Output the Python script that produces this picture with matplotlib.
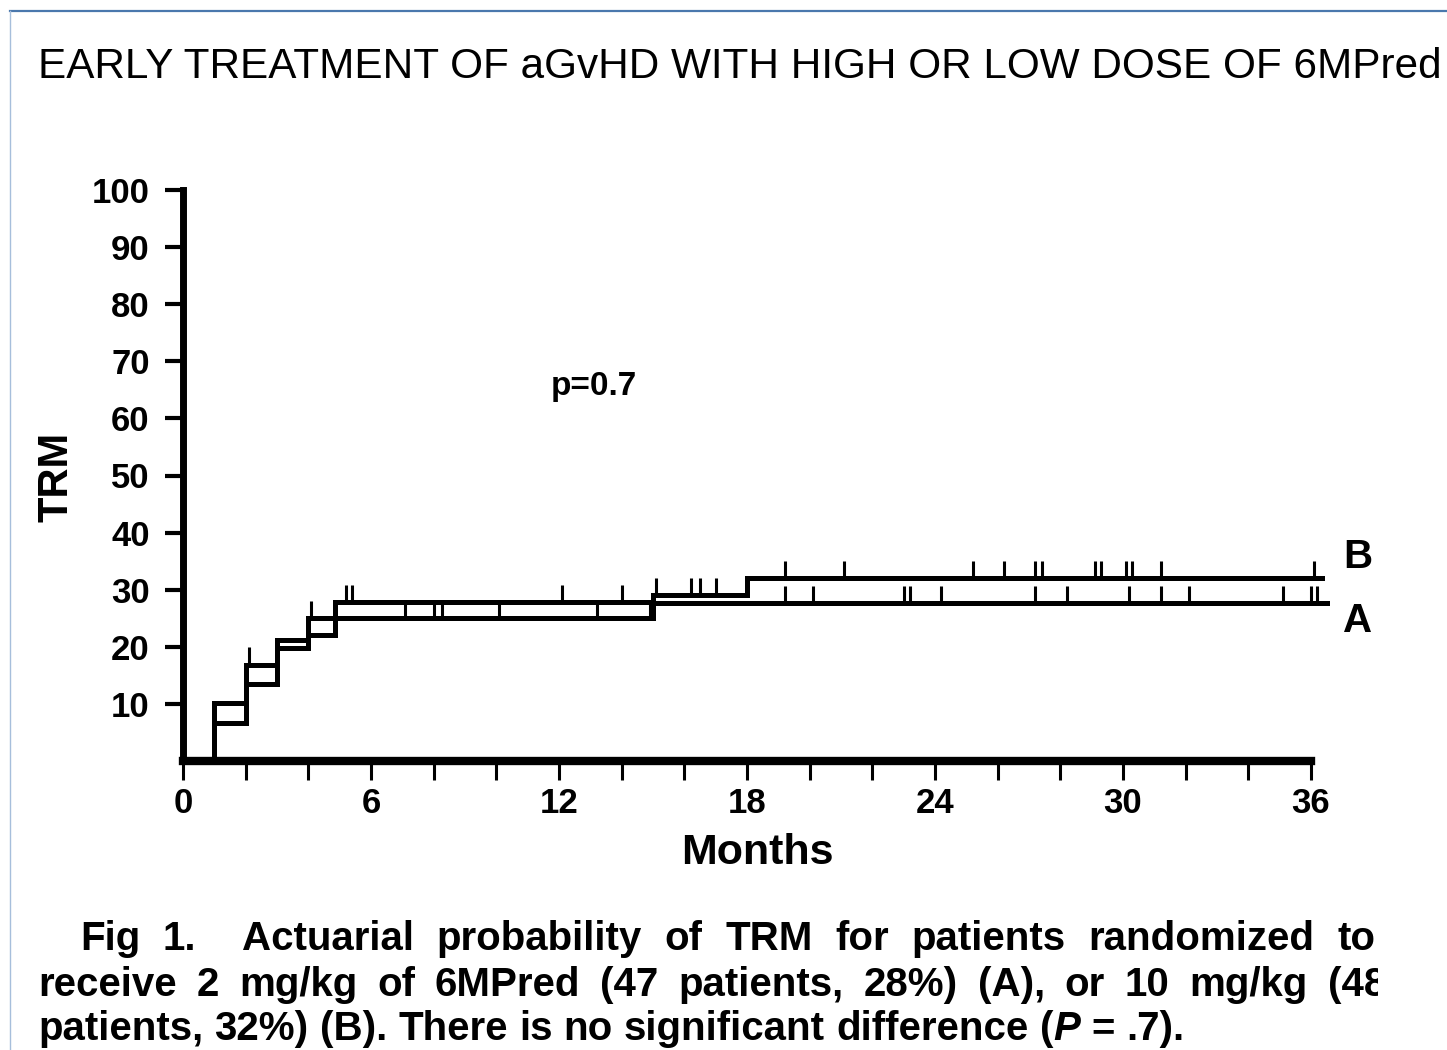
import matplotlib
matplotlib.use('Agg')
import matplotlib.pyplot as plt
import numpy as np
from matplotlib.lines import Line2D
from matplotlib.transforms import Bbox

plt.rcParams['font.family'] = ['Liberation Sans', 'DejaVu Sans']
plt.rcParams['font.weight'] = 'bold'

# actuarial TRM curves (month, % TRM), step functions
a_months = [0, 1, 2, 3, 4, 15, 36.5]
a_trm = [0, 10.2, 16.9, 19.8, 25.1, 27.7, 27.7]
b_months = [0, 1, 2, 3, 4, 4.85, 15, 18, 36.35]
b_trm = [0, 6.7, 13.4, 21.2, 22.1, 27.8, 29.0, 32.0, 32.0]

# censored patients (months)
a_censored = [2.1, 4.1, 7.1, 8.0, 8.25, 10.1, 13.2, 14.9, 19.2, 20.1, 23.0, 23.2,
              24.2, 27.2, 28.2, 30.2, 31.2, 32.1, 35.1, 36.0, 36.2]
b_censored = [5.2, 5.4, 12.1, 14.0, 15.1, 16.2, 16.5, 17.0, 19.2, 21.1, 25.2, 26.2,
              27.2, 27.4, 29.1, 29.3, 30.1, 30.3, 31.2, 36.1]

y_ticks = [10, 20, 30, 40, 50, 60, 70, 80, 90, 100]
x_major = [0, 6, 12, 18, 24, 30, 36]
x_minor = list(range(0, 37, 2))

title = 'EARLY TREATMENT OF aGvHD WITH HIGH OR LOW DOSE OF 6MPred'
caption1 = [('Fig', '', 1), ('1.', '', 2), ('Actuarial', '', 1), ('probability', '', 1),
            ('of', '', 1), ('TRM', '', 1), ('for', '', 1), ('patients', '', 1),
            ('randomized', '', 1), ('to', '', 0)]
caption2 = [('receive', '', 1), ('2', '', 1), ('mg/kg', '', 1), ('of', '', 1),
            ('6MPred', '', 1), ('(47', '', 1), ('patients,', '', 1), ('28%)', '', 1),
            ('(A),', '', 1), ('or', '', 1), ('10', '', 1), ('mg/kg', '', 1), ('(48', '', 0)]
caption3 = [('patients,', '', 1), ('32%)', '', 1), ('(B).', '', 1), ('There', '', 1),
            ('is', '', 1), ('no', '', 1), ('significant', '', 1), ('difference', '', 1),
            ('(', '', 0), ('P', 'italic', 1), ('=', '', 1), ('.7).', '', 0)]

W, H = 1447, 1050
fig = plt.figure(figsize=(W / 100, H / 100), dpi=100)
ax = fig.add_axes([183 / W, 1 - 761 / H, 1128 / W, 571 / H])


def value_at(months, vals, t):
    i = np.searchsorted(months, t, side='right') - 1
    return np.asarray(vals)[i]


for m, v, cens in [(a_months, a_trm, a_censored), (b_months, b_trm, b_censored)]:
    ax.step(m, v, where='post', color='black', lw=3.6, clip_on=False, solid_joinstyle='miter')
    yc = value_at(m, v, cens)
    ax.vlines(cens, yc, yc + 3.0, color='black', lw=2.2, clip_on=False)

ax.text(37.5, b_trm[-1] + 3.7, 'B', fontsize=29, ha='center', va='center')
ax.text(37.5, a_trm[-1] - 3.2, 'A', fontsize=29, ha='center', va='center')
ax.text(13.1, 64.1, 'p=0.7', fontsize=24, ha='center', va='baseline')

ax.set_xlim(0, 36)
ax.set_ylim(0, 100)
ax.spines['top'].set_visible(False)
ax.spines['right'].set_visible(False)
ax.spines['left'].set_linewidth(5)
ax.spines['bottom'].set_linewidth(6)
ax.spines['left'].set_bounds(0, 100)
ax.spines['bottom'].set_bounds(0, 36)
ax.set_yticks(y_ticks)
ax.set_xticks(x_major)
ax.set_xticks(x_minor, minor=True)
ax.tick_params(axis='y', direction='out', length=13, width=3, pad=11, labelsize=25)
ax.tick_params(axis='x', which='both', direction='out', length=14, width=2.2, pad=5, labelsize=25)
ax.set_xlabel('Months', fontsize=31, fontweight='bold')
ax.xaxis.set_label_coords(0.509, -0.126)
ax.set_ylabel('TRM', fontsize=30, fontweight='bold', va='center')
ax.yaxis.set_label_coords(-0.112, 0.497)

fig.text(38 / W, 1 - 78 / H, title, fontsize=30.4, fontweight='normal', ha='left', va='baseline')

# page frame
fig.add_artist(Line2D([10 / W, 1], [1 - 11 / H] * 2, transform=fig.transFigure,
                      color='#4a78ad', lw=1.6))
fig.add_artist(Line2D([10 / W] * 2, [0, 1 - 11 / H], transform=fig.transFigure,
                      color='#a6bedb', lw=1))


def caption_line(tokens, x0, base, x1=None, size=29):
    r = fig.canvas.get_renderer()
    arts = [fig.text(0, 1 - base / H, w, fontsize=size, fontstyle=st or 'normal',
                     ha='left', va='baseline') for w, st, n in tokens]
    widths = [t.get_window_extent(r).width for t in arts]
    gaps = [n for w, st, n in tokens]
    sp = 0.278 * size * fig.dpi / 72
    if x1 is not None:
        sp = (x1 - x0 - sum(widths)) / sum(gaps)
    x = x0
    for t, w, n in zip(arts, widths, gaps):
        t.set_x(x / W)
        x += w + n * sp
    return arts


caption_line(caption1, 80, 950, 1375)
line2 = caption_line(caption2, 38, 996, 1386)
line2[-1].set_clip_box(Bbox.from_extents(0, 0, 1378, H))
line2[-1].set_clip_on(True)
caption_line(caption3, 38, 1040)

fig.savefig('out.png', dpi=100)
